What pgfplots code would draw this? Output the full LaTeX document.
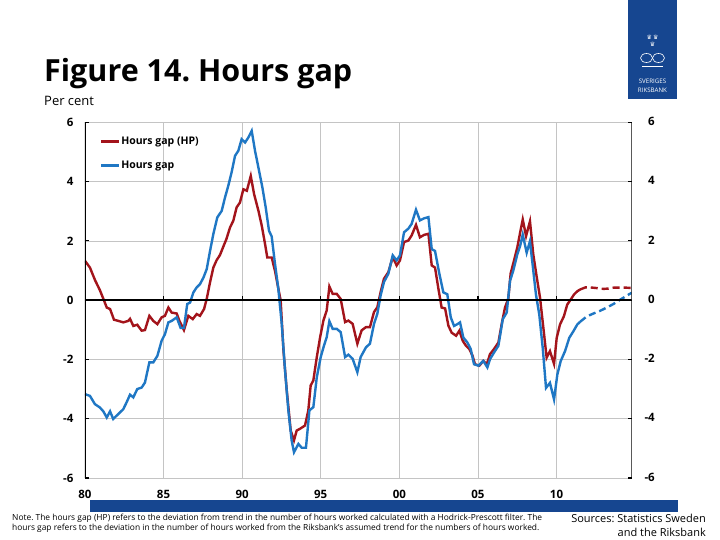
\documentclass[border=0pt]{standalone}
\usepackage{fontspec}
\setmainfont{Open Sans}
\newfontfamily\djv{DejaVu Sans}
\usepackage{pgfplots}
\pgfplotsset{compat=1.18}
\definecolor{rbred}{HTML}{A3141B}
\definecolor{rbblue}{HTML}{1F77C4}
\definecolor{rbnavy}{HTML}{164690}
\definecolor{gridgray}{HTML}{C4C4C4}
\frenchspacing

\begin{document}
\begin{tikzpicture}[x=1pt,y=1pt]
\path[use as bounding box, fill=white] (0,0) rectangle (720,540);
% logo
\fill[rbnavy] (628,441) rectangle (677,540);
\node[white, font=\djv\fontsize{6}{6}\selectfont, inner sep=0] at (652.5,503) {\char"265B\,\char"265B};
\node[white, font=\djv\fontsize{6}{6}\selectfont, inner sep=0] at (652.5,496) {\char"265B};
\draw[white, line width=0.6pt] (646.5,482) ellipse (6 and 4.5);
\draw[white, line width=0.6pt] (658.5,482) ellipse (6 and 4.5);
\draw[white, line width=0.5pt] (642,474) -- (663,474);
\node[white, font=\fontsize{6.2}{6.2}\selectfont, inner sep=0] at (652.5,459) {SVERIGES};
\node[white, font=\fontsize{6.2}{6.2}\selectfont, inner sep=0] at (652.5,450) {RIKSBANK};
% titles
\node[anchor=base west, inner sep=0, font=\bfseries\fontsize{30.5}{30.5}\selectfont] at (44,458) {Figure 14. Hours gap};
\node[anchor=base west, inner sep=0, font=\fontsize{13}{13}\selectfont] at (44,434) {Per cent};

\begin{axis}[
  at={(84.9pt,62pt)}, anchor=south west, scale only axis,
  width=546.8pt, height=355.7pt,
  xmin=1980, xmax=2014.78, ymin=-6, ymax=6,
  xtick={1980,1985,1990,1995,2000,2005,2010},
  xticklabels={80,85,90,95,00,05,10},
  ytick={-6,-4,-2,0,2,4,6},
  yticklabels={-6,-4,-2,0,2,4,6},
  axis line style={draw=none},
  grid=major, grid style={gridgray, line width=0.7pt},
  xtick style={draw=none},
  ytick style={black, line width=1.2pt},
  tick align=inside, major tick length=4pt, ytick pos=both,
  yticklabel pos=left,
  tick label style={font=\bfseries\fontsize{11.5}{11.5}\selectfont},
  xticklabel style={yshift=-9pt},
  yticklabel style={xshift=-8pt},
  legend style={at={(0.027,0.962)}, anchor=north west, draw=none, fill=none,
    font=\bfseries\fontsize{10.5}{10.5}\selectfont, row sep=13pt,
    inner sep=0pt, nodes={inner sep=1pt}},
  legend cell align=left,
  legend image code/.code={\draw[#1] (0pt,0pt) -- (18pt,0pt);},
]
\addplot[rbred, line width=2.4pt] coordinates {
(1980.00,1.33) (1980.32,1.10) (1980.64,0.68) (1980.95,0.34) (1981.17,0.05)
(1981.39,-0.25) (1981.60,-0.30) (1981.85,-0.66) (1982.13,-0.70) (1982.44,-0.75)
(1982.76,-0.70) (1982.87,-0.63) (1983.08,-0.87) (1983.33,-0.83) (1983.61,-1.03)
(1983.82,-1.01) (1984.10,-0.53) (1984.35,-0.70) (1984.61,-0.81) (1984.88,-0.58)
(1985.09,-0.53) (1985.31,-0.25) (1985.52,-0.42) (1985.84,-0.45) (1986.01,-0.70)
(1986.30,-1.01) (1986.58,-0.53) (1986.86,-0.64) (1987.11,-0.47) (1987.32,-0.53)
(1987.58,-0.30) (1987.75,0.05) (1987.96,0.60) (1988.17,1.10) (1988.38,1.35)
(1988.59,1.52) (1988.80,1.80) (1989.00,2.06) (1989.23,2.45) (1989.44,2.68)
(1989.65,3.13) (1989.86,3.29) (1990.08,3.74) (1990.30,3.69) (1990.55,4.19)
(1990.76,3.58) (1991.04,3.01) (1991.25,2.51) (1991.46,1.89) (1991.60,1.44)
(1991.88,1.44) (1992.09,0.99) (1992.30,0.40) (1992.45,0.00) (1992.63,-1.70)
(1992.84,-3.05) (1993.09,-4.40) (1993.30,-4.73) (1993.47,-4.40) (1993.68,-4.34)
(1994.00,-4.23) (1994.21,-3.72) (1994.36,-2.88) (1994.53,-2.71) (1994.75,-1.92)
(1994.96,-1.25) (1995.17,-0.69) (1995.38,-0.35) (1995.55,0.46) (1995.76,0.21)
(1996.02,0.21) (1996.27,0.04) (1996.55,-0.74) (1996.76,-0.69) (1997.03,-0.80)
(1997.33,-1.47) (1997.60,-1.02) (1997.88,-0.91) (1998.13,-0.91) (1998.39,-0.40)
(1998.60,-0.24) (1998.81,0.27) (1999.02,0.72) (1999.30,0.94) (1999.58,1.45)
(1999.83,1.17) (2000.04,1.34) (2000.30,1.96) (2000.57,2.01) (2000.78,2.18)
(2001.06,2.54) (2001.31,2.12) (2001.57,2.20) (2001.85,2.24) (2002.06,1.17)
(2002.27,1.10) (2002.48,0.40) (2002.69,-0.25) (2002.91,-0.28) (2003.12,-0.86)
(2003.33,-1.10) (2003.61,-1.20) (2003.82,-1.03) (2004.03,-1.37) (2004.24,-1.54)
(2004.45,-1.65) (2004.66,-1.88) (2004.81,-2.16) (2005.09,-2.21) (2005.34,-2.05)
(2005.56,-2.16) (2005.77,-1.82) (2006.02,-1.65) (2006.30,-1.43) (2006.51,-0.81)
(2006.72,-0.25) (2006.93,0.05) (2007.08,0.90) (2007.30,1.35) (2007.50,1.77)
(2007.68,2.27) (2007.85,2.72) (2008.06,2.16) (2008.31,2.66) (2008.52,1.54)
(2008.73,0.81) (2008.95,0.08) (2009.16,-0.93) (2009.37,-1.94) (2009.58,-1.72)
(2009.84,-2.15) (2010.01,-1.27) (2010.22,-0.82) (2010.47,-0.54) (2010.68,-0.15)
(2010.90,0.02) (2011.11,0.19) (2011.32,0.30) (2011.50,0.36)
};
\addlegendentry{Hours gap (HP)}
\addplot[rbblue, line width=2.4pt] coordinates {
(1980.00,-3.17) (1980.32,-3.23) (1980.64,-3.51) (1980.95,-3.62) (1981.17,-3.75)
(1981.39,-3.96) (1981.60,-3.75) (1981.80,-4.01) (1982.13,-3.84) (1982.44,-3.68)
(1982.65,-3.45) (1982.87,-3.19) (1983.08,-3.28) (1983.33,-3.00) (1983.61,-2.95)
(1983.82,-2.78) (1984.10,-2.10) (1984.35,-2.10) (1984.61,-1.88) (1984.88,-1.37)
(1985.09,-1.15) (1985.31,-0.75) (1985.52,-0.70) (1985.84,-0.58) (1986.09,-0.94)
(1986.30,-0.94) (1986.51,-0.13) (1986.69,-0.08) (1986.90,0.26) (1987.11,0.43)
(1987.32,0.54) (1987.54,0.76) (1987.75,1.05) (1987.96,1.66) (1988.17,2.23)
(1988.42,2.79) (1988.70,3.01) (1988.91,3.46) (1989.12,3.86) (1989.33,4.31)
(1989.55,4.87) (1989.76,5.04) (1989.97,5.43) (1990.19,5.32) (1990.40,5.49)
(1990.61,5.71) (1990.82,5.04) (1991.08,4.36) (1991.29,3.80) (1991.50,3.13)
(1991.71,2.34) (1991.88,2.15) (1992.09,1.23) (1992.30,0.40) (1992.52,-0.80)
(1992.73,-2.37) (1992.94,-3.72) (1993.15,-4.73) (1993.30,-5.13) (1993.58,-4.85)
(1993.79,-4.98) (1994.06,-4.98) (1994.28,-3.72) (1994.53,-3.61) (1994.75,-2.60)
(1995.00,-1.92) (1995.21,-1.53) (1995.38,-1.25) (1995.55,-0.71) (1995.76,-0.97)
(1996.02,-0.97) (1996.27,-1.08) (1996.55,-1.92) (1996.76,-1.84) (1997.03,-1.98)
(1997.33,-2.43) (1997.54,-1.92) (1997.88,-1.59) (1998.13,-1.47) (1998.39,-0.80)
(1998.60,-0.46) (1998.81,0.16) (1999.02,0.61) (1999.30,0.89) (1999.58,1.51)
(1999.83,1.34) (2000.04,1.51) (2000.30,2.29) (2000.57,2.41) (2000.78,2.57)
(2001.06,3.05) (2001.31,2.69) (2001.57,2.76) (2001.85,2.80) (2002.06,1.72)
(2002.27,1.66) (2002.55,0.88) (2002.80,0.26) (2003.05,0.20) (2003.27,-0.58)
(2003.48,-0.87) (2003.69,-0.81) (2003.86,-0.75) (2004.07,-1.26) (2004.33,-1.43)
(2004.54,-1.65) (2004.75,-2.16) (2005.03,-2.21) (2005.34,-2.05) (2005.60,-2.27)
(2005.77,-1.99) (2006.02,-1.77) (2006.30,-1.54) (2006.58,-0.64) (2006.83,-0.42)
(2007.04,0.65) (2007.25,1.00) (2007.50,1.54) (2007.68,1.82) (2007.85,2.21)
(2008.10,1.60) (2008.31,1.99) (2008.50,1.09) (2008.69,0.19) (2008.90,-0.48)
(2009.12,-1.61) (2009.33,-2.96) (2009.58,-2.79) (2009.84,-3.35) (2010.05,-2.51)
(2010.26,-2.06) (2010.54,-1.72) (2010.81,-1.27) (2011.07,-1.05) (2011.32,-0.82)
(2011.50,-0.73)
};
\addlegendentry{Hours gap}
\addplot[rbred, line width=2.4pt, dash pattern=on 7pt off 4pt, forget plot] coordinates {
(2011.50,0.36) (2011.84,0.43) (2012.13,0.43) (2012.50,0.41) (2012.98,0.38)
(2013.30,0.39) (2013.62,0.42) (2014.00,0.42) (2014.46,0.42) (2014.78,0.41)
};
\addplot[rbblue, line width=2.4pt, dash pattern=on 7pt off 4pt, forget plot] coordinates {
(2011.50,-0.73) (2011.92,-0.55) (2012.35,-0.45) (2012.77,-0.36) (2013.20,-0.25)
(2013.62,-0.13) (2014.00,0.00) (2014.40,0.13) (2014.78,0.25)
};
% zero line, side axis lines and small ticks on the zero line
\draw[black, line width=2pt] (axis cs:1980,0) -- (axis cs:2014.78,0);
\draw[black, line width=2.4pt] (axis cs:1980,-6) -- (axis cs:1980,6);
\draw[black, line width=2.4pt] (axis cs:2014.78,-6) -- (axis cs:2014.78,6);
\pgfplotsinvokeforeach{1985,1990,1995,2000,2005,2010}{
  \draw[black, line width=1.2pt] (axis cs:#1,0) -- ++(0pt,4pt);
}
\end{axis}
% right-hand tick labels
\foreach \v in {-6,-4,-2,0,2,4,6}{
  \node[anchor=east, inner sep=0, font=\bfseries\fontsize{11.5}{11.5}\selectfont]
    at (655,{240.7+29.64*\v}) {\v};
}
% bottom band and notes
\fill[rbnavy] (90,28) rectangle (678,40);
\node[anchor=north west, inner sep=0, align=left, font=\fontsize{8.4}{10.8}\selectfont] at (12,26.5)
  {Note. The hours gap (HP) refers to the deviation from trend in the number of hours worked calculated with a Hodrick-Prescott filter. The\\
   hours gap refers to the deviation in the number of hours worked from the Riksbank's assumed trend for the numbers of hours worked.};
\node[anchor=north east, inner sep=0, align=right, font=\fontsize{11}{13.5}\selectfont] at (706,26)
  {Sources: Statistics Sweden\\ and the Riksbank};
\end{tikzpicture}
\end{document}
